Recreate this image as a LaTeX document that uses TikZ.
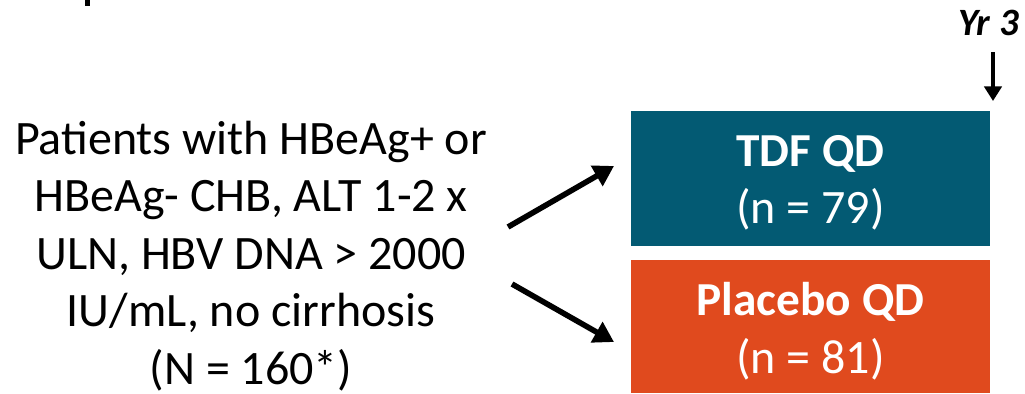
\documentclass[tikz,border=0pt]{standalone}
\usepackage{fontspec}
\setmainfont{Carlito}
\usetikzlibrary{arrows.meta}
\definecolor{armteal}{RGB}{3,90,115}
\definecolor{armorange}{RGB}{224,74,30}
\tikzset{
  armbox/.style={rectangle, draw=none, anchor=north west, inner sep=0pt},
  armtitle/.style={anchor=base, text=white, font=\fontsize{35.5}{40}\selectfont\bfseries, inner sep=0pt},
  armcount/.style={anchor=base, text=white, font=\fontsize{36}{40}\selectfont, inner sep=0pt},
  flow/.style={line width=4.2pt, -{Triangle[length=15pt,width=17pt]}},
}
\begin{document}
\begin{tikzpicture}[x=0.75pt, y=-0.75pt]
\useasboundingbox (0,0) rectangle (1025,393);

% clipped glyph at the top edge
\fill (85,0) rectangle (90,6);

% eligibility criteria (base anchor sits on the last line)
\node (pop) [anchor=base, align=center, inner sep=0pt,
  font=\fontsize{36}{43.1}\selectfont] at (251,384)
  {Patients with HBeAg+ or\\HBeAg- CHB, ALT 1-2 x\\ULN, HBV DNA > 2000\\IU/mL, no cirrhosis\\(N = 160*)};

% treatment arms
\node (tdf) [armbox, fill=armteal, minimum width=269.25pt, minimum height=101.25pt] at (631,111) {};
\node (pbo) [armbox, fill=armorange, minimum width=269.25pt, minimum height=99.75pt] at (631,260) {};
\node (tdft) [armtitle] at (810.5,166) {TDF QD};
\node (tdfn) [armcount] at (810.5,223) {(n = 79)};
\node (pbot) [armtitle] at (810.5,315) {Placebo QD};
\node (pbon) [armcount] at (810.5,373) {(n = 81)};

% randomisation arrows
\coordinate (upA) at (508,227);
\coordinate (upB) at (614,166);
\coordinate (dnA) at (512,284);
\coordinate (dnB) at (614,342);
\draw[flow] (upA) -- (upB);
\draw[flow] (dnA) -- (dnB);

% year 3 marker
\node (yr) [anchor=base east, inner sep=0pt,
  font=\fontsize{29}{32}\selectfont\bfseries\itshape] at (1019,35) {Yr 3};
\coordinate (yrA) at (993,52);
\coordinate (yrB) at (993,101);
\draw[line width=3pt, -{Triangle[length=11pt,width=13pt]}] (yrA) -- (yrB);
\end{tikzpicture}
\end{document}
